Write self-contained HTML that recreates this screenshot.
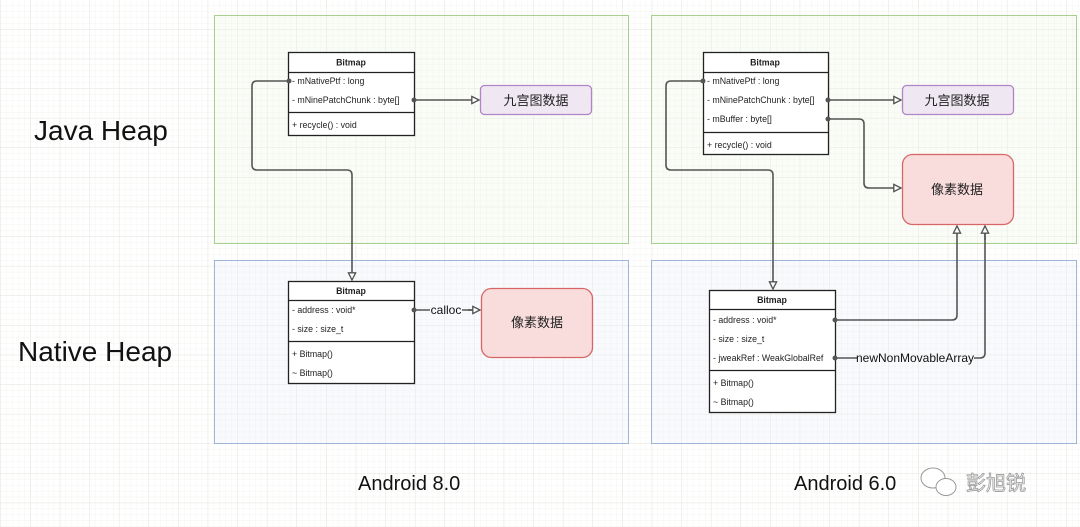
<!DOCTYPE html>
<html><head><meta charset="utf-8"><style>
html,body{margin:0;padding:0;background:#fff;}
svg{display:block;}
text{font-family:"Liberation Sans","Noto Sans CJK SC",sans-serif;}
</style></head><body>
<svg width="1080" height="527" viewBox="0 0 1080 527" xmlns="http://www.w3.org/2000/svg">
<defs>
<pattern id="minor" width="5.92" height="5.92" patternUnits="userSpaceOnUse"><path d="M5.92 0V5.92H0" fill="none" stroke="#f0f0ea" stroke-width="0.7"/></pattern>
<pattern id="major" x="1" y="0" width="29.6" height="29.6" patternUnits="userSpaceOnUse"><rect width="29.6" height="29.6" fill="url(#minor)"/><path d="M29.6 0V29.6H0" fill="none" stroke="#e2e2da" stroke-width="1"/></pattern>
<marker id="arr" viewBox="0 0 10 10" refX="9" refY="5" markerWidth="9" markerHeight="9" orient="auto" markerUnits="userSpaceOnUse"><path d="M1 1L9 5L1 9Z" fill="#fff" stroke="#555" stroke-width="1.5"/></marker>
</defs>
<rect width="1080" height="527" fill="url(#major)"/>
<!-- panels -->
<rect x="214.5" y="15.5" width="414" height="228" fill="#eef6e6" fill-opacity="0.3" stroke="#a9d18e"/>
<rect x="214.5" y="260.5" width="414" height="183" fill="#e8eef8" fill-opacity="0.3" stroke="#9fb5d8"/>
<rect x="651.5" y="15.5" width="425" height="228" fill="#eef6e6" fill-opacity="0.3" stroke="#a9d18e"/>
<rect x="651.5" y="260.5" width="425" height="183" fill="#e8eef8" fill-opacity="0.3" stroke="#9fb5d8"/>

<g fill="#111" style="font-family:'DejaVu Sans','Liberation Sans',sans-serif">
<text x="34" y="140" font-size="28">Java Heap</text>
<text x="18" y="361" font-size="28">Native Heap</text>
<text x="358" y="490" font-size="20">Android 8.0</text>
<text x="794" y="490" font-size="20">Android 6.0</text>
</g>

<!-- data boxes -->
<rect x="480.5" y="85.5" width="111" height="29" rx="4" fill="#efe8f3" stroke="#b184c6" stroke-width="1.3"/>
<text x="536" y="105" font-size="13" text-anchor="middle" fill="#222">九宫图数据</text>
<rect x="481.5" y="288.5" width="111" height="69" rx="10" fill="#f9dcdc" stroke="#d96666" stroke-width="1.3"/>
<text x="537" y="327" font-size="13" text-anchor="middle" fill="#222">像素数据</text>
<rect x="902.5" y="85.5" width="111" height="29" rx="4" fill="#efe8f3" stroke="#b184c6" stroke-width="1.3"/>
<text x="957" y="105" font-size="13" text-anchor="middle" fill="#222">九宫图数据</text>
<rect x="902.5" y="154.5" width="111" height="70" rx="10" fill="#f9dcdc" stroke="#d96666" stroke-width="1.3"/>
<text x="957" y="194" font-size="13" text-anchor="middle" fill="#222">像素数据</text>

<!-- class boxes -->
<g stroke="#222" stroke-width="1.3" fill="#fff">
<rect x="288.5" y="52.5" width="126" height="83"/><line x1="288" y1="72.5" x2="414" y2="72.5"/><line x1="288" y1="112.5" x2="414" y2="112.5"/>
<rect x="288.5" y="281.5" width="126" height="102"/><line x1="288" y1="300.5" x2="414" y2="300.5"/><line x1="288" y1="341.5" x2="414" y2="341.5"/>
<rect x="703.5" y="52.5" width="125" height="102"/><line x1="703" y1="72.5" x2="828" y2="72.5"/><line x1="703" y1="132.5" x2="828" y2="132.5"/>
<rect x="709.5" y="290.5" width="126" height="122"/><line x1="709" y1="309.5" x2="835" y2="309.5"/><line x1="709" y1="370.5" x2="835" y2="370.5"/>
</g>
<g font-size="8.8" fill="#222">
<text x="351" y="65.5" text-anchor="middle" font-weight="bold">Bitmap</text>
<text x="292" y="84">- mNativePtf : long</text>
<text x="292" y="103">- mNinePatchChunk : byte[]</text>
<text x="292" y="128">+ recycle() : void</text>
<text x="351" y="294" text-anchor="middle" font-weight="bold">Bitmap</text>
<text x="292" y="313">- address : void*</text>
<text x="292" y="332">- size : size_t</text>
<text x="292" y="357">+ Bitmap()</text>
<text x="292" y="376">~ Bitmap()</text>
<text x="765" y="65.5" text-anchor="middle" font-weight="bold">Bitmap</text>
<text x="707" y="84">- mNativePtf : long</text>
<text x="707" y="103">- mNinePatchChunk : byte[]</text>
<text x="707" y="122">- mBuffer : byte[]</text>
<text x="707" y="148">+ recycle() : void</text>
<text x="772" y="303" text-anchor="middle" font-weight="bold">Bitmap</text>
<text x="713" y="323">- address : void*</text>
<text x="713" y="342">- size : size_t</text>
<text x="713" y="361">- jweakRef : WeakGlobalRef</text>
<text x="713" y="386">+ Bitmap()</text>
<text x="713" y="405">~ Bitmap()</text>
</g>

<!-- connectors -->
<g fill="none" stroke="#555" stroke-width="1.6" stroke-linejoin="round">
<path d="M289 81H257Q252 81 252 86V165Q252 170 257 170H347Q352 170 352 175V280" marker-end="url(#arr)"/>
<path d="M414 100H479" marker-end="url(#arr)"/>
<path d="M414 310H430M462 310H480" />
<path d="M468 310H480" marker-end="url(#arr)"/>
<path d="M703 81H671Q666 81 666 86V165Q666 170 671 170H768Q773 170 773 175V289" marker-end="url(#arr)"/>
<path d="M828 100H901" marker-end="url(#arr)"/>
<path d="M828 119H859Q864 119 864 124V183Q864 188 869 188H901" marker-end="url(#arr)"/>
<path d="M835 320H952Q957 320 957 315V226" marker-end="url(#arr)"/>
<path d="M835 358H857M974 358H980Q985 358 985 353V226" />
<path d="M985 240V226" marker-end="url(#arr)"/>
</g>
<g fill="#555"><circle cx="289" cy="81" r="2.5"/><circle cx="414" cy="100" r="2.5"/><circle cx="414" cy="310" r="2.5"/><circle cx="703" cy="81" r="2.5"/><circle cx="828" cy="100" r="2.5"/><circle cx="828" cy="119" r="2.5"/><circle cx="835" cy="320" r="2.5"/><circle cx="835" cy="358" r="2.5"/></g>
<text x="446" y="314" font-size="12" text-anchor="middle" fill="#111">calloc</text>
<text x="915" y="362" font-size="12" text-anchor="middle" fill="#111">newNonMovableArray</text>

<!-- watermark -->
<g fill="#fff" stroke="#999" stroke-width="1">
<ellipse cx="933" cy="478" rx="12" ry="10"/><ellipse cx="946" cy="487" rx="10" ry="8.5"/>
</g>
<text x="966" y="490" font-size="20" fill="#fff" stroke="#999" stroke-width="0.8">彭旭锐</text>
</svg>
</body></html>
